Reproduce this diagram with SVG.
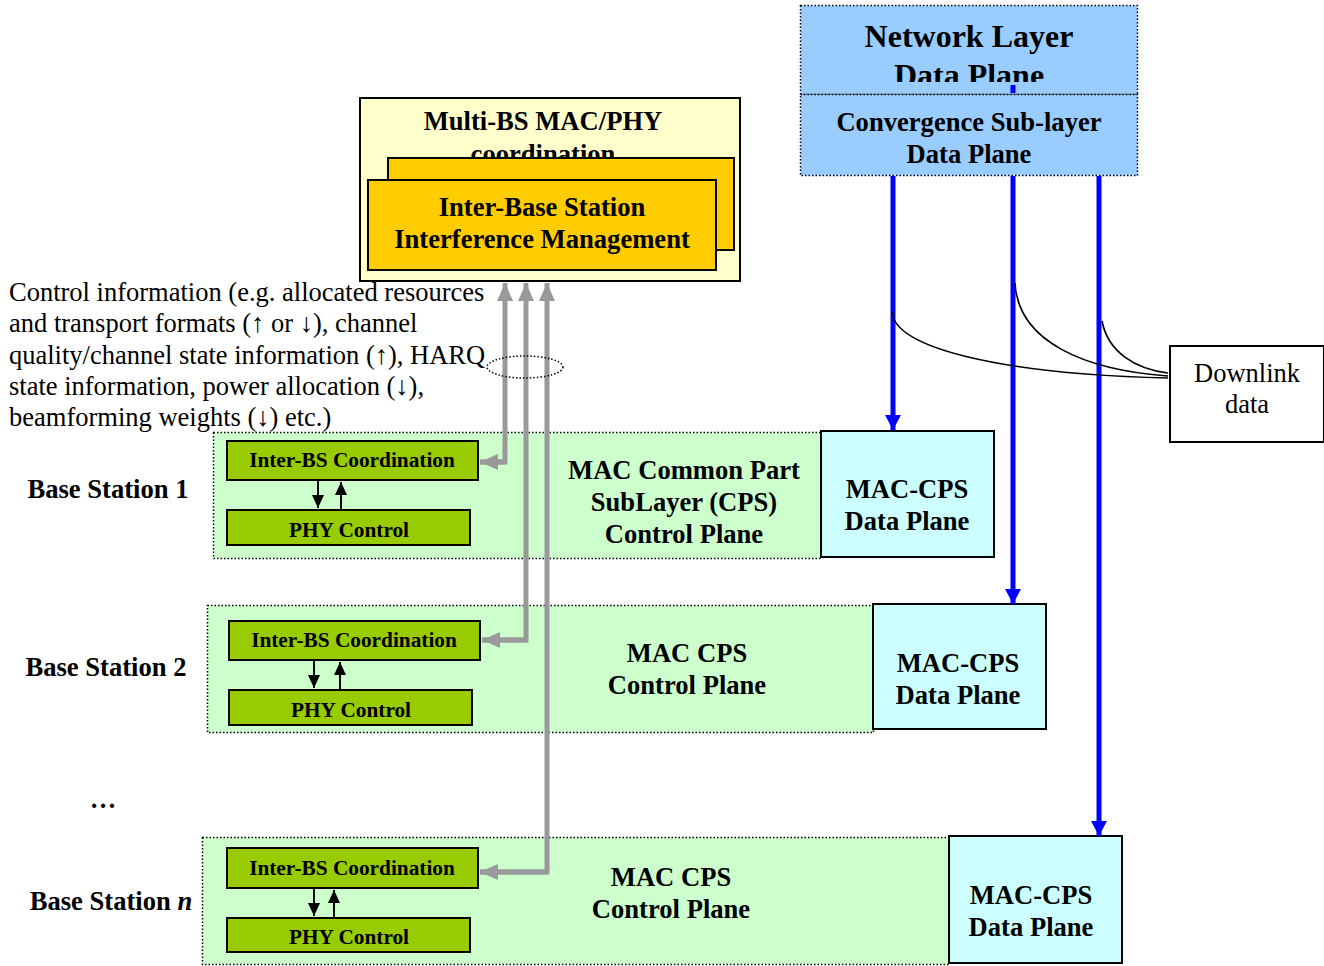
<svg xmlns="http://www.w3.org/2000/svg" width="1324" height="966" viewBox="0 0 1324 966">
  <defs>
    <style>
      text { font-family: "Liberation Serif", "Times New Roman", serif; fill: #000; }
      .b { font-weight: bold; text-anchor: middle; }
      .t24 { font-size: 26.6px; }
      .t28 { font-size: 32px; }
      .t19 { font-size: 21.3px; }
      .plain { font-size: 26.5px; }
      .mid { text-anchor: middle; }
      .net { fill: #99CCFF; stroke: #000; stroke-width: 1.5; stroke-dasharray: 1.5 2; }
      .bs { fill: #CCFFCC; stroke: #000; stroke-width: 1.5; stroke-dasharray: 1.5 2; }
      .dp { fill: #CCFFFF; stroke: #000; stroke-width: 2; }
      .gr { fill: #99CC00; stroke: #000; stroke-width: 2; }
      .or { fill: #FFCC00; stroke: #000; stroke-width: 2; }
      .blue { stroke: #0000FF; stroke-width: 5; fill: none; }
      .gray { stroke: #999999; stroke-width: 5; fill: none; }
      .thin { stroke: #000; stroke-width: 2; fill: none; }
      .curve { stroke: #000; stroke-width: 1.6; fill: none; }
    </style>
    <clipPath id="netTextClip">
      <rect x="800" y="5" width="338" height="77"/>
    </clipPath>
    <marker id="ahBlue" markerUnits="userSpaceOnUse" markerWidth="16" markerHeight="16" refX="15" refY="8" orient="auto">
      <path d="M0 0 L15 8 L0 16 Z" fill="#0000FF"/>
    </marker>
    <marker id="ahGray" markerUnits="userSpaceOnUse" markerWidth="18" markerHeight="16" refX="18" refY="8" orient="auto">
      <path d="M0 0 L18 8 L0 16 Z" fill="#999999"/>
    </marker>
    <marker id="ahBlack" markerUnits="userSpaceOnUse" markerWidth="14" markerHeight="12" refX="13" refY="6" orient="auto">
      <path d="M0 0 L13 6 L0 12 Z" fill="#000"/>
    </marker>
  </defs>

  <!-- Network layer and convergence sub-layer (data plane) -->
  <g id="network-layer">
    <rect class="net" x="800.5" y="5.5" width="337" height="89"/>
    <g clip-path="url(#netTextClip)">
      <text class="b t28" x="969" y="47">Network Layer</text>
      <text class="b t28" x="969" y="86">Data Plane</text>
    </g>
  </g>
  <g id="convergence-sublayer">
    <rect class="net" x="800.5" y="94.5" width="337" height="81"/>
    <text class="b t24" x="969" y="131">Convergence Sub-layer</text>
    <text class="b t24" x="969" y="163">Data Plane</text>
  </g>

  <!-- Multi-BS coordination entity -->
  <g id="multi-bs-coordination">
    <rect x="360" y="98" width="380" height="183" fill="#FFFFCC" stroke="#000" stroke-width="2"/>
    <text class="b t24" x="543" y="130">Multi-BS MAC/PHY</text>
    <text class="b t24" x="543" y="163">coordination</text>
  </g>
  <g id="interference-management">
    <rect class="or" x="388" y="158" width="346" height="92"/>
    <rect class="or" x="368" y="180" width="348" height="90"/>
    <text class="b t24" x="542" y="216">Inter-Base Station</text>
    <text class="b t24" x="542" y="248">Interference Management</text>
  </g>

  <!-- Control information note -->
  <g id="control-info-note">
    <text class="plain" x="9" y="301">Control information (e.g. allocated resources</text>
    <text class="plain" x="9" y="332">and transport formats (↑ or ↓), channel</text>
    <text class="plain" x="9" y="364">quality/channel state information (↑), HARQ</text>
    <text class="plain" x="9" y="395">state information, power allocation (↓),</text>
    <text class="plain" x="9" y="426">beamforming weights (↓) etc.)</text>
  </g>

  <!-- Downlink data -->
  <g id="downlink-data">
    <rect x="1170" y="346" width="154" height="96" fill="#FFF" stroke="#000" stroke-width="2"/>
    <text class="plain mid" x="1247" y="382">Downlink</text>
    <text class="plain mid" x="1247" y="413">data</text>
  </g>

  <!-- Base station 1 -->
  <g id="base-station-1">
    <text class="b t24" x="108" y="498">Base Station 1</text>
    <rect class="bs" x="213.5" y="432.5" width="608" height="126"/>
    <text class="b t24" x="684" y="479">MAC Common Part</text>
    <text class="b t24" x="684" y="511">SubLayer (CPS)</text>
    <text class="b t24" x="684" y="543">Control Plane</text>
    <rect class="gr" x="227" y="441" width="251" height="39"/>
    <text class="b t19" x="352" y="467">Inter-BS Coordination</text>
    <rect class="gr" x="227" y="510" width="243" height="35"/>
    <text class="b t19" x="349" y="537">PHY Control</text>
    <rect class="dp" x="821" y="431" width="173" height="126"/>
    <text class="b t24" x="907" y="498">MAC-CPS</text>
    <text class="b t24" x="907" y="530">Data Plane</text>
  </g>

  <!-- Base station 2 -->
  <g id="base-station-2">
    <text class="b t24" x="106" y="676">Base Station 2</text>
    <rect class="bs" x="207.5" y="605.5" width="666" height="127"/>
    <text class="b t24" x="687" y="662">MAC CPS</text>
    <text class="b t24" x="687" y="694">Control Plane</text>
    <rect class="gr" x="229" y="621" width="251" height="39"/>
    <text class="b t19" x="354" y="647">Inter-BS Coordination</text>
    <rect class="gr" x="229" y="690" width="243" height="35"/>
    <text class="b t19" x="351" y="717">PHY Control</text>
    <rect class="dp" x="873" y="604" width="173" height="125"/>
    <text class="b t24" x="958" y="672">MAC-CPS</text>
    <text class="b t24" x="958" y="704">Data Plane</text>
  </g>

  <g id="ellipsis">
    <text class="b t24" x="103" y="808">…</text>
  </g>

  <!-- Base station n -->
  <g id="base-station-n">
    <text class="b t24" x="111" y="910">Base Station <tspan font-style="italic">n</tspan></text>
    <rect class="bs" x="202.5" y="837.5" width="747" height="127"/>
    <text class="b t24" x="671" y="886">MAC CPS</text>
    <text class="b t24" x="671" y="918">Control Plane</text>
    <rect class="gr" x="227" y="848" width="251" height="40"/>
    <text class="b t19" x="352" y="875">Inter-BS Coordination</text>
    <rect class="gr" x="227" y="918" width="243" height="34"/>
    <text class="b t19" x="349" y="944">PHY Control</text>
    <rect class="dp" x="949" y="836" width="173" height="127"/>
    <text class="b t24" x="1031" y="904">MAC-CPS</text>
    <text class="b t24" x="1031" y="936">Data Plane</text>
  </g>

  <!-- Connectors -->
  <g id="connectors">
    <!-- data plane flows -->
    <path class="blue" d="M1013 85 V93"/>
    <path class="blue" d="M893 176 V430" marker-end="url(#ahBlue)"/>
    <path class="blue" d="M1013 176 V604" marker-end="url(#ahBlue)"/>
    <path class="blue" d="M1099 176 V836" marker-end="url(#ahBlue)"/>
    <!-- downlink data callout -->
    <path class="curve" d="M892 312 C 895 348, 1000 374, 1168 378"/>
    <path class="curve" d="M1015 283 C 1018 342, 1085 370, 1168 376"/>
    <path class="curve" d="M1102 321 C 1108 352, 1135 369, 1168 373"/>
    <!-- inter-BS control exchange -->
    <path class="gray" d="M480 462 H505 V283" marker-end="url(#ahGray)"/>
    <path class="gray" d="M505 462 H480" marker-end="url(#ahGray)"/>
    <path class="gray" d="M482 640 H526 V283" marker-end="url(#ahGray)"/>
    <path class="gray" d="M526 640 H482" marker-end="url(#ahGray)"/>
    <path class="gray" d="M480 872 H547 V283" marker-end="url(#ahGray)"/>
    <path class="gray" d="M547 872 H480" marker-end="url(#ahGray)"/>
    <ellipse cx="525" cy="367" rx="38" ry="11" fill="none" stroke="#000" stroke-width="1.5" stroke-dasharray="1.5 2"/>
    <!-- coordination / PHY control exchange -->
    <path class="thin" d="M318 481 V508" marker-end="url(#ahBlack)"/>
    <path class="thin" d="M341 509 V482" marker-end="url(#ahBlack)"/>
    <path class="thin" d="M314 661 V688" marker-end="url(#ahBlack)"/>
    <path class="thin" d="M340 689 V662" marker-end="url(#ahBlack)"/>
    <path class="thin" d="M314 889 V916" marker-end="url(#ahBlack)"/>
    <path class="thin" d="M334 917 V890" marker-end="url(#ahBlack)"/>
  </g>
</svg>
